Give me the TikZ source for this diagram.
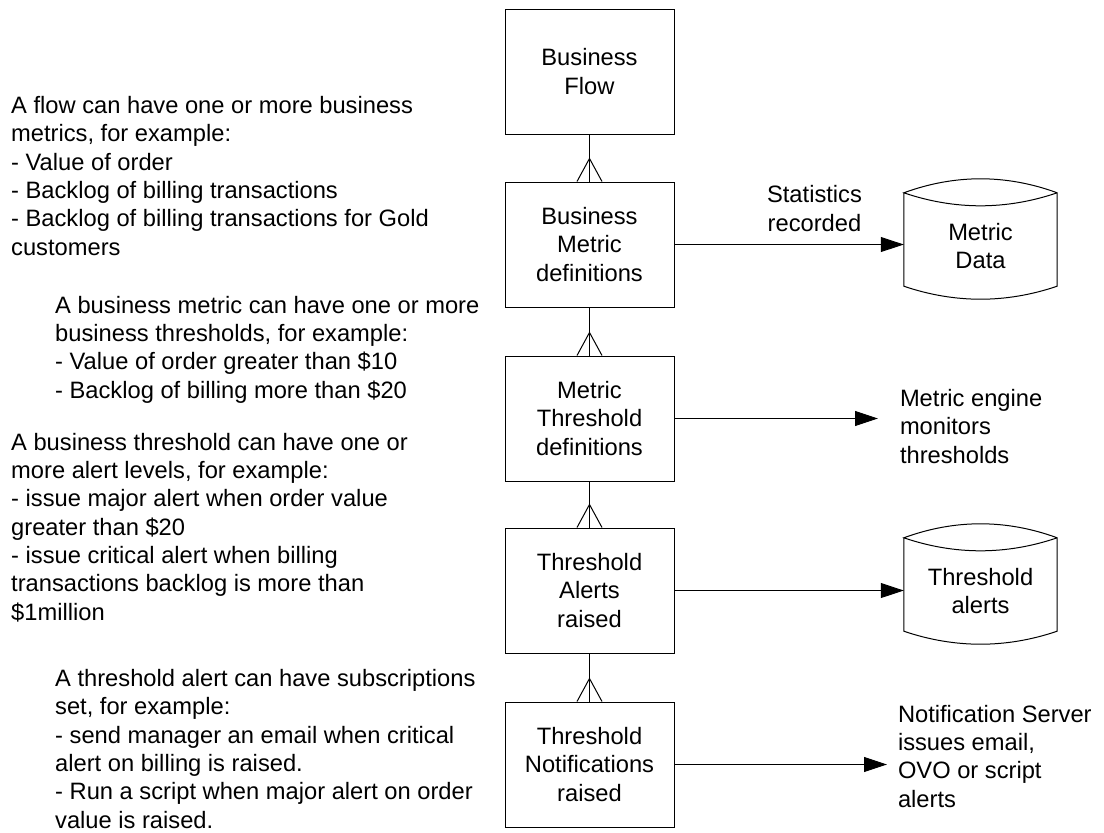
\documentclass[tikz,border=0pt]{standalone}
\usepackage{fontspec}
\setmainfont{Liberation Sans}
\usetikzlibrary{arrows.meta,calc}

\tikzset{
  line/.style={draw=black, line width=1pt},
  entity/.style={line, rectangle, minimum width=169pt, minimum height=125pt,
    align=center, inner sep=0pt},
  store/.style={rectangle, minimum width=153pt, minimum height=106pt,
    align=center, inner sep=0pt},
  note/.style={align=left, inner sep=0pt, anchor=base west},
  flow/.style={line, -{Triangle[length=23pt,width=15pt]}},
}

% one-to-many foot on the top side of an entity box
\newcommand\crowfoot[1]{%
  \draw[line] (#1.north) ++(-12.5,0) -- ++(12.5,-23) -- ++(12.5,23);}

% data store outline drawn around a store node
\newcommand\storeoutline[1]{%
  \draw[line] (#1.north west) -- ($(#1.south west)+(0,-13)$)
    .. controls ($(#1.south west)+(51,4.33)$) and ($(#1.south east)+(-51,4.33)$)
    .. ($(#1.south east)+(0,-13)$) -- (#1.north east)
    .. controls ($(#1.north east)+(-51,-18.67)$) and ($(#1.north west)+(51,-18.67)$)
    .. (#1.north west)
    .. controls ($(#1.north west)+(51,17.33)$) and ($(#1.north east)+(-51,17.33)$)
    .. (#1.north east);}

\begin{document}
\begin{tikzpicture}[x=1pt, y=-1pt, font=\fontsize{23.7}{28.3}\selectfont]
\useasboundingbox (0,0) rectangle (1104,833);

% entity column
\node[entity] (flow)  at (589.5, 71.5)  {Business\\Flow};
\node[entity] (bmd)   at (589.5, 244.5) {Business\\Metric\\definitions};
\node[entity] (mtd)   at (589.5, 418.5) {Metric\\Threshold\\definitions};
\node[entity] (tar)   at (589.5, 590.5) {Threshold\\Alerts\\raised};
\node[entity] (tnr)   at (589.5, 764.5) {Threshold\\Notifications\\raised};

\draw[line] (flow.south) -- (bmd.north);
\draw[line] (bmd.south) -- (mtd.north);
\draw[line] (mtd.south) -- (tar.north);
\draw[line] (tar.south) -- (tnr.north);
\crowfoot{bmd}
\crowfoot{mtd}
\crowfoot{tar}
\crowfoot{tnr}

% data stores
\node[store] (mdata) at (980.5, 246) {Metric\\Data};
\storeoutline{mdata}
\node[store] (talerts) at (980.5, 591) {Threshold\\alerts};
\storeoutline{talerts}

% outgoing flows
\draw[flow] (bmd.east) -- (bmd.east -| mdata.west);
\node[align=center, inner sep=0pt, anchor=base] (stat) at (814.5, 231)
  {Statistics\\recorded};

\node[note, outer xsep=22pt] (engine) at (878, 463)
  {Metric engine\\monitors\\thresholds};
\draw[flow] (mtd.east) -- (mtd.east -| engine.west);

\draw[flow] (tar.east) -- (tar.east -| talerts.west);

\node[note, outer xsep=11pt] (server) at (887, 807)
  {Notification Server\\issues email,\\OVO or script\\alerts};
\draw[flow] (tnr.east) -- (tnr.east -| server.west);

% explanatory notes (placed by the baseline of their last line)
\node[note] (n1) at (11, 255)
  {A flow can have one or more business\\metrics, for example:\\- Value of order\\- Backlog of billing transactions\\- Backlog of billing transactions for Gold\\customers};
\node[note] (n2) at (55, 398)
  {A business metric can have one or more\\business thresholds, for example:\\- Value of order greater than \$10\\- Backlog of billing more than \$20};
\node[note] (n3) at (11, 620)
  {A business threshold can have one or\\more alert levels, for example:\\- issue major alert when order value\\greater than \$20\\- issue critical alert when billing\\transactions backlog is more than\\\$1million};
\node[note] (n4) at (55, 828)
  {A threshold alert can have subscriptions\\set, for example:\\- send manager an email when critical\\alert on billing is raised.\\- Run a script when major alert on order\\value is raised.};
\end{tikzpicture}
\end{document}
